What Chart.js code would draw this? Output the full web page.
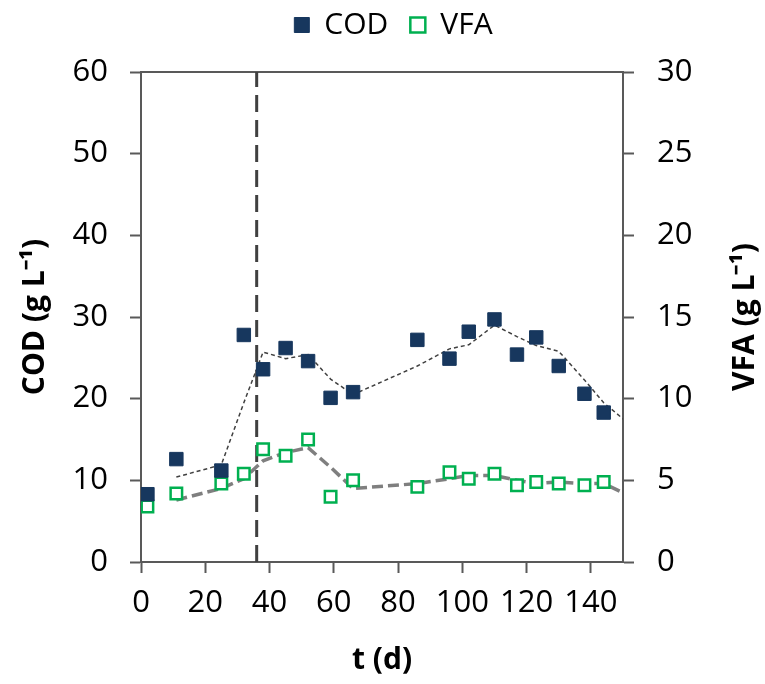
<!DOCTYPE html>
<html>
<head>
<meta charset="utf-8">
<script src="https://cdn.jsdelivr.net/npm/chart.js@4.4.0/dist/chart.umd.min.js"></script>
<style>
html, body { margin: 0; padding: 0; background: #fff; }
#wrap { width: 765px; height: 684px; }
</style>
</head>
<body>
<div id="wrap"><canvas id="myChart"></canvas></div>
<script>
/*---------------------------- data ------------------------------------*/
var days = [2, 11, 25, 32, 38, 45, 52, 59, 66, 86, 96, 102, 110, 117, 123, 130, 138, 144];
var codValues = [8.3, 12.6, 11.2, 27.8, 23.6, 26.2, 24.6, 20.1, 20.8, 27.2, 24.9, 28.2, 29.7, 25.4, 27.5, 24.0, 20.6, 18.3];
var vfaValues = [3.4, 4.2, 4.8, 5.4, 6.9, 6.5, 7.5, 4.0, 5.0, 4.6, 5.5, 5.1, 5.4, 4.7, 4.9, 4.8, 4.7, 4.9];

// trend lines
var trendDays = [11, 25, 32, 38, 45, 52, 59, 66, 86, 96, 102, 110, 117, 123, 130, 138, 144, 151];
var codTrend = [10.4, 11.9, 19.5, 25.7, 24.9, 25.4, 22.4, 20.5, 24.0, 26.1, 26.6, 29.0, 27.6, 26.5, 25.8, 22.3, 19.5, 17.2];
var vfaTrend = [3.8, 4.5, 5.1, 6.2, 6.7, 7.0, 5.8, 4.5, 4.8, 5.1, 5.3, 5.3, 5.0, 4.8, 4.9, 4.8, 4.8, 4.15];

var phaseDay = 36;

var xTicks = [0, 20, 40, 60, 80, 100, 120, 140];
var codTicks = [0, 10, 20, 30, 40, 50, 60];
var vfaTicks = [0, 5, 10, 15, 20, 25, 30];

var vfaTitle = "VFA (g L\u207B\u00B9)";

function pts(xs, ys) {
  return xs.map(function (x, i) { return {x: x, y: ys[i]}; });
}
function fixTicks(list) {
  return function (scale) { scale.ticks = list.map(function (v) { return {value: v}; }); };
}

// right axis title reads bottom-to-top like the left one
var rightTitle = {
  id: "rightTitle",
  afterDraw: function (chart) {
    var s = chart.scales.y2;
    var ctx = chart.ctx;
    ctx.save();
    ctx.translate(745, (s.top + s.bottom) / 2);
    ctx.rotate(-Math.PI / 2);
    ctx.font = "bold 30px 'Open Sans', sans-serif";
    ctx.fillStyle = "#000";
    ctx.textAlign = "center";
    ctx.textBaseline = "middle";
    ctx.fillText(vfaTitle, 0, 0);
    ctx.restore();
  }
};

/*---------------------------- chart ------------------------------------*/
Chart.defaults.font.family = "'Open Sans', sans-serif";
Chart.defaults.font.size = 31;
Chart.defaults.color = "#000";

var axisColor = "#595959";

new Chart("myChart", {
  type: "scatter",
  data: {
    datasets: [{
      label: "COD",
      data: pts(days, codValues),
      xAxisID: "x", yAxisID: "y",
      pointStyle: "rect",
      pointRadius: 9.5,
      pointHoverRadius: 9.5,
      backgroundColor: "#17375E",
      borderColor: "#17375E",
      borderWidth: 1
    }, {
      label: "VFA",
      data: pts(days, vfaValues),
      xAxisID: "x", yAxisID: "y2",
      pointStyle: "rect",
      pointRadius: 8.1,
      pointHoverRadius: 8.1,
      backgroundColor: "#fff",
      borderColor: "#00B050",
      borderWidth: 2.5
    }, {
      label: "COD trend",
      data: pts(trendDays, codTrend),
      xAxisID: "x", yAxisID: "y",
      showLine: true,
      pointRadius: 0,
      borderColor: "#404040",
      borderWidth: 1.5,
      borderDash: [4, 3]
    }, {
      label: "VFA trend",
      data: pts(trendDays, vfaTrend),
      xAxisID: "x", yAxisID: "y2",
      showLine: true,
      pointRadius: 0,
      borderColor: "#7F7F7F",
      borderWidth: 3.5,
      borderDash: [11, 5]
    }, {
      label: "phase",
      data: [{x: phaseDay, y: 0}, {x: phaseDay, y: 60}],
      xAxisID: "x", yAxisID: "y",
      showLine: true,
      pointRadius: 0,
      borderColor: "#404040",
      borderWidth: 3,
      borderDash: [17, 8]
    }]
  },
  options: {
    responsive: true,
    maintainAspectRatio: false,
    animation: false,
    layout: {padding: {top: -12, left: 22}},
    plugins: {
      tooltip: {enabled: false},
      legend: {
        position: "top",
        labels: {
          filter: function (item) { return item.text === "COD" || item.text === "VFA"; },
          boxWidth: 15,
          boxHeight: 15,
          padding: 22,
          font: {size: 30, lineHeight: 1}
        }
      }
    },
    scales: {
      x: {
        type: "linear", position: "bottom", min: 0, max: 150,
        afterBuildTicks: fixTicks(xTicks),
        afterFit: function (s) { s.height = 122; },
        grid: {drawOnChartArea: false, tickLength: 11, tickWidth: 2, tickColor: axisColor},
        border: {color: axisColor, width: 2},
        ticks: {padding: 12},
        title: {display: true, text: "t (d)", font: {size: 30, weight: "bold"}, padding: {top: 0, bottom: 6}}
      },
      x2: {
        type: "linear", axis: "x", position: "top", min: 0, max: 150,
        afterFit: function (s) { s.height = 72 - s.chart.legend.height + 12; },
        grid: {drawOnChartArea: false, drawTicks: false},
        border: {color: axisColor, width: 2},
        ticks: {display: false}
      },
      y: {
        type: "linear", position: "left", min: 0, max: 60,
        afterBuildTicks: fixTicks(codTicks),
        afterFit: function (s) { s.width = 119; },
        grid: {drawOnChartArea: false, tickLength: 11, tickWidth: 2, tickColor: axisColor},
        border: {color: axisColor, width: 2},
        ticks: {padding: 22},
        title: {display: true, text: "COD (g L\u207B\u00B9)", font: {size: 30, weight: "bold"}, padding: {top: -5, bottom: 0}}
      },
      y2: {
        type: "linear", position: "right", min: 0, max: 30,
        afterBuildTicks: fixTicks(vfaTicks),
        afterFit: function (s) { s.width = 142; },
        grid: {drawOnChartArea: false, tickLength: 11, tickWidth: 2, tickColor: axisColor},
        border: {color: axisColor, width: 2},
        ticks: {padding: 23},
        title: {display: false}
      }
    }
  },
  plugins: [rightTitle]
});
</script>
</body>
</html>
